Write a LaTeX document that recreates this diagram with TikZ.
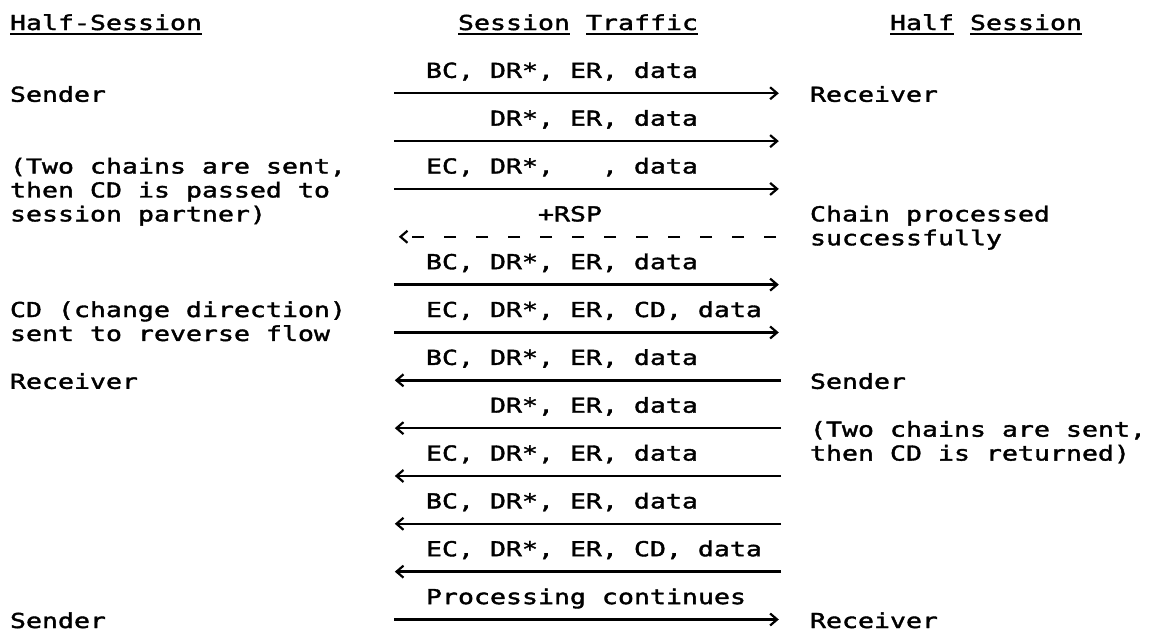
\documentclass[tikz,border=0pt]{standalone}
\usepackage{fontspec}
\usetikzlibrary{arrows.meta}

% wide printer-style monospace: 16pt cell pitch, 15pt cap height
\newfontfamily\gothic{DejaVu Sans Mono}[FakeStretch=1.29,FakeBold=1.8]
\newcommand\gothicsize{\gothic\fontsize{20.6pt}{24pt}\selectfont}

\tikzset{
  txt/.style={anchor=base west, inner sep=0pt, outer sep=0pt, font=\gothicsize},
  uline/.style={line width=2pt},
  flow/.style={line width=2.4pt, -{Straight Barb[length=7pt,width=12pt,line width=2.2pt]}},
  reply/.style={flow, dash pattern=on 12pt off 20pt},
}

\begin{document}
\begin{tikzpicture}[x=16pt, y=-23.92pt]
% one unit = one character cell (column, text row); origin = baseline of row 0
\useasboundingbox (-10pt,30pt) rectangle (1140pt,-602pt);

% column headings
\node[txt] (hsl)  at (0,0)  {Half-Session};
\node[txt] (stA)  at (28,0) {Session};
\node[txt] (stB)  at (36,0) {Traffic};
\node[txt] (hsrA) at (55,0) {Half};
\node[txt] (hsrB) at (60,0) {Session};
\foreach \n in {hsl,stA,stB,hsrA,hsrB}
  \draw[uline] ([yshift=-3.5pt]\n.base west) -- ([yshift=-3.5pt]\n.base east);

% left half-session
\node[txt] (l3)  at (0,3)  {Sender};
\node[txt] (l6)  at (0,6)  {(Two chains are sent,};
\node[txt] (l7)  at (0,7)  {then CD is passed to};
\node[txt] (l8)  at (0,8)  {session partner)};
\node[txt] (l12) at (0,12) {CD (change direction)};
\node[txt] (l13) at (0,13) {sent to reverse flow};
\node[txt] (l15) at (0,15) {Receiver};
\node[txt] (l25) at (0,25) {Sender};

% right half-session
\node[txt] (r3)  at (50,3)  {Receiver};
\node[txt] (r8)  at (50,8)  {Chain processed};
\node[txt] (r9)  at (50,9)  {successfully};
\node[txt] (r15) at (50,15) {Sender};
\node[txt] (r17) at (50,17) {(Two chains are sent,};
\node[txt] (r18) at (50,18) {then CD is returned)};
\node[txt] (r25) at (50,25) {Receiver};

% session traffic labels
\node[txt] (m2)  at (26,2)  {BC, DR*, ER, data};
\node[txt] (m4)  at (30,4)  {DR*, ER, data};
\node[txt] (m6)  at (26,6)  {EC, DR*,\ \ \ , data};
\node[txt] (m8)  at (33,8)  {+RSP};
\node[txt] (m10) at (26,10) {BC, DR*, ER, data};
\node[txt] (m12) at (26,12) {EC, DR*, ER, CD, data};
\node[txt] (m14) at (26,14) {BC, DR*, ER, data};
\node[txt] (m16) at (30,16) {DR*, ER, data};
\node[txt] (m18) at (26,18) {EC, DR*, ER, data};
\node[txt] (m20) at (26,20) {BC, DR*, ER, data};
\node[txt] (m22) at (26,22) {EC, DR*, ER, CD, data};
\node[txt] (m24) at (26,24) {Processing continues};

% flows, drawn at mid-height of their text rows
\begin{scope}[yshift=8.5pt]
  \foreach \r in {3,5,7,11,13,25} {
    \coordinate (w\r) at (24,\r);
    \coordinate (e\r) at (48.05,\r);
    \draw[flow] (w\r) -- (e\r);
  }
  \foreach \r in {15,17,19,21,23} {
    \coordinate (w\r) at (24.05,\r);
    \coordinate (e\r) at (48.2,\r);
    \draw[flow] (e\r) -- (w\r);
  }
  \coordinate (w9) at (24.3,9);
  \coordinate (e9) at (47.875,9);
  \draw[reply] (e9) -- (w9);
\end{scope}
\end{tikzpicture}
\end{document}
